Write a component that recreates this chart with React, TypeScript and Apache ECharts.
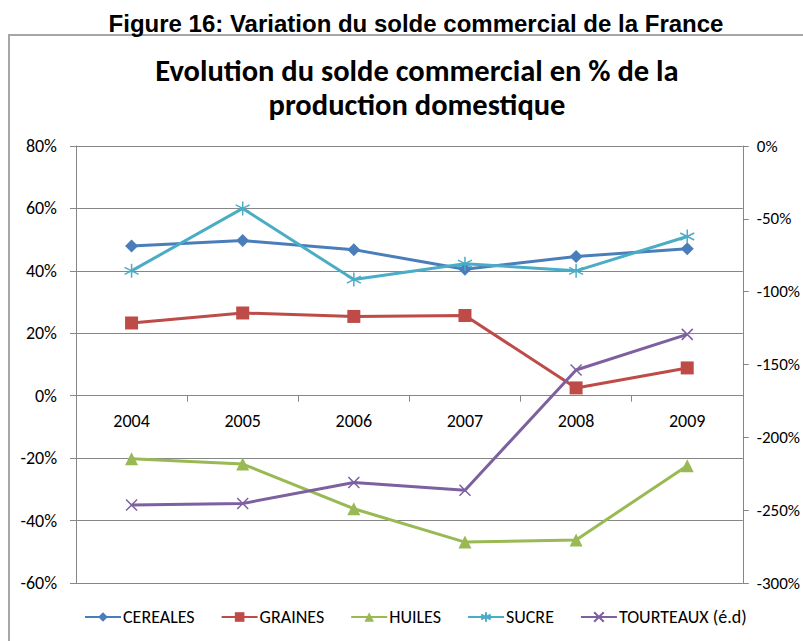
import React, { useEffect, useRef } from "react";
import * as echarts from "echarts";

const years = ["2004", "2005", "2006", "2007", "2008", "2009"];
const cereales = [48, 49.7, 46.8, 40.5, 44.6, 47.1];
const graines = [23.3, 26.5, 25.4, 25.7, 2.5, 8.9];
const huiles = [-20.2, -21.9, -36.2, -46.9, -46.2, -22.4];
const sucre = [40, 60, 37.2, 42.3, 40, 51];
const tourteaux = [-246.5, -245.4, -231, -236.3, -153.8, -129.3];

const FONT = "Carlito, Lato, sans-serif";

export default function App() {
  const ref = useRef<HTMLDivElement>(null);
  useEffect(() => {
    if (!ref.current) return;
    const chart = echarts.init(ref.current, null, { renderer: "svg" });
    const asterisk = "path://M0,-1L0,1M-0.87,-0.5L0.87,0.5M-0.87,0.5L0.87,-0.5";
    const cross = "path://M-1,-1L1,1M-1,1L1,-1";
    const mk = (name: string, data: number[], color: string, symbol: string, size: number, yAxisIndex = 0, stroke = false) => ({
      name,
      type: "line",
      yAxisIndex,
      data,
      symbol,
      symbolSize: size,
      showSymbol: true,
      lineStyle: { color, width: 3 },
      itemStyle: stroke
        ? { color, borderColor: color, borderWidth: 1.5 }
        : { color, borderWidth: 0 },
      z: 3,
    });
    chart.setOption({
      animation: false,
      backgroundColor: "#ffffff",
      graphic: [
        {
          type: "rect",
          shape: { x: 9, y: 35, width: 820, height: 640 },
          style: { fill: "none", stroke: "#a6a6a6", lineWidth: 2 },
          silent: true,
        },
      ],
      title: [
        {
          text: "Figure 16: Variation du solde commercial de la France",
          left: 411,
          textAlign: "center",
          top: 6,
          textStyle: { fontFamily: "'Liberation Sans', Arial, sans-serif", fontWeight: "bold", fontSize: 24, color: "#000" },
        },
        {
          text: "Evolution du solde commercial en % de la\nproduction domestique",
          left: 412,
          textAlign: "center",
          top: 48,
          textStyle: { fontFamily: FONT, fontWeight: "bold", fontSize: 30.5, color: "#000", lineHeight: 34 },
        },
      ],
      legend: {
        bottom: 10,
        left: 79,
        itemWidth: 36,
        itemHeight: 12,
        itemGap: 26,
        textStyle: { fontFamily: FONT, fontSize: 18, color: "#000", padding: [0, 0, 0, -3] },
        data: ["CEREALES", "GRAINES", "HUILES", "SUCRE", "TOURTEAUX (é.d)"],
      },
      grid: { left: 76, right: 58, top: 146, bottom: 58 },
      xAxis: {
        type: "category",
        data: years,
        boundaryGap: true,
        offset: -187.3,
        axisLine: { onZero: false, lineStyle: { color: "#868686", width: 1 } },
        axisTick: { show: true, length: 6, lineStyle: { color: "#868686" } },
        axisLabel: { margin: 16, fontFamily: FONT, fontSize: 18, color: "#000" },
        splitLine: { show: false },
      },
      yAxis: [
        {
          type: "value",
          min: -60,
          max: 80,
          interval: 20,
          position: "left",
          axisLine: { show: true, lineStyle: { color: "#868686" } },
          axisTick: { show: true, length: 6, lineStyle: { color: "#868686" } },
          axisLabel: { formatter: "{value}%", margin: 19, fontFamily: FONT, fontSize: 18, color: "#000" },
          splitLine: { show: true, lineStyle: { color: "#868686", width: 1 } },
        },
        {
          type: "value",
          min: -300,
          max: 0,
          interval: 50,
          position: "right",
          axisLine: { show: true, lineStyle: { color: "#868686" } },
          axisTick: { show: true, length: 6, lineStyle: { color: "#868686" } },
          axisLabel: { formatter: "{value}%", margin: 14, fontFamily: FONT, fontSize: 17, color: "#000" },
          splitLine: { show: false },
        },
      ],
      series: [
        mk("CEREALES", cereales, "#4A7EBB", "diamond", 13),
        mk("GRAINES", graines, "#BE4B48", "rect", 13),
        mk("HUILES", huiles, "#98B954", "triangle", 13),
        mk("SUCRE", sucre, "#4BACC6", asterisk, 14, 0, true),
        mk("TOURTEAUX (é.d)", tourteaux, "#7D60A0", cross, 11, 1, true),
      ],
    });
    return () => chart.dispose();
  }, []);
  return (
    <div
      ref={ref}
      style={{ position: "fixed", left: 0, top: 0, width: 803, height: 641, background: "#fff" }}
    />
  );
}
